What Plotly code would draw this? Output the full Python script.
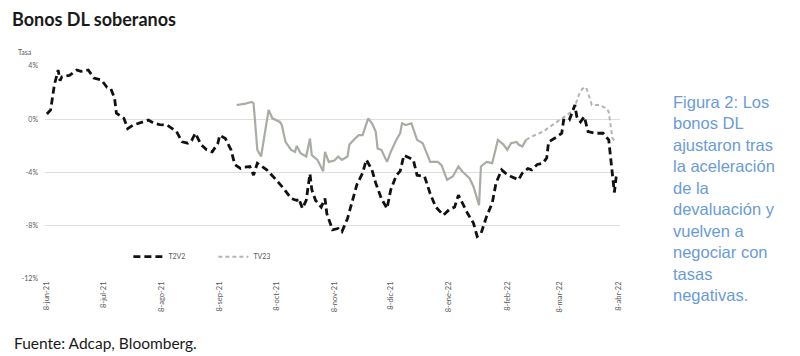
import plotly.graph_objects as go

# ---- data ----
t2v2_dates = ["2021-06-08","2021-06-10","2021-06-12","2021-06-14","2021-06-15","2021-06-16","2021-06-20",
    "2021-06-24","2021-06-26","2021-06-30","2021-07-03","2021-07-07","2021-07-10","2021-07-12","2021-07-14",
    "2021-07-15","2021-07-19","2021-07-21","2021-07-24","2021-07-27","2021-08-01","2021-08-04","2021-08-07",
    "2021-08-11","2021-08-16","2021-08-19","2021-08-22","2021-08-24","2021-08-26","2021-08-29","2021-09-01",
    "2021-09-04","2021-09-07","2021-09-08","2021-09-11","2021-09-14","2021-09-16","2021-09-19","2021-09-21",
    "2021-09-24","2021-09-26","2021-09-28","2021-09-30","2021-10-03","2021-10-08","2021-10-12","2021-10-16",
    "2021-10-19","2021-10-20","2021-10-22","2021-10-24","2021-10-26","2021-10-27","2021-10-29","2021-11-01",
    "2021-11-03","2021-11-04","2021-11-07","2021-11-10","2021-11-12","2021-11-15","2021-11-18","2021-11-20",
    "2021-11-23","2021-11-25","2021-11-28","2021-11-30","2021-12-03","2021-12-06","2021-12-08","2021-12-11",
    "2021-12-13","2021-12-15","2021-12-20","2021-12-22","2021-12-26","2021-12-29","2022-01-01","2022-01-05",
    "2022-01-08","2022-01-11","2022-01-13","2022-01-15","2022-01-18","2022-01-21","2022-01-23","2022-01-25",
    "2022-01-28","2022-01-31","2022-02-02","2022-02-05","2022-02-07","2022-02-10","2022-02-14","2022-02-16",
    "2022-02-19","2022-02-21","2022-02-24","2022-02-27","2022-03-01","2022-03-02","2022-03-05","2022-03-09",
    "2022-03-10","2022-03-13","2022-03-16","2022-03-17","2022-03-19","2022-03-21","2022-03-23","2022-03-27",
    "2022-03-31","2022-04-03","2022-04-04","2022-04-05","2022-04-06","2022-04-07"]
t2v2_vals = [0.4,0.7,2.6,3.7,2.9,3.2,3.3,
    3.7,3.6,3.7,3.1,2.95,2.4,2.3,1.6,
    0.45,0.07,-0.7,-0.43,-0.3,-0.06,-0.3,-0.4,
    -0.43,-0.93,-1.7,-1.8,-1.6,-1.05,-1.9,-2.3,
    -2.45,-1.8,-1.2,-1.45,-2.3,-3.4,-3.7,-3.6,
    -3.55,-4.2,-3.3,-3.5,-3.8,-4.55,-5.2,-5.95,
    -6.1,-5.95,-6.7,-6.1,-4.1,-5.3,-6.1,-6.6,
    -5.95,-7.1,-8.3,-8.2,-8.45,-7.45,-5.8,-4.9,
    -4.05,-3.05,-3.8,-4.8,-5.95,-6.7,-5.3,-4.2,
    -3.9,-2.7,-3.05,-4.2,-4.3,-5.6,-6.6,-7.2,
    -6.8,-6.6,-5.7,-6.3,-7.1,-7.8,-8.8,-8.6,
    -7.3,-6.3,-4.8,-3.8,-4.05,-4.3,-4.55,-4.05,
    -3.7,-3.8,-3.4,-3.3,-2.9,-1.7,-1.45,-1.05,
    -0.06,-0.06,1.07,0.2,-0.2,0.2,-0.93,-1.05,
    -1.05,-1.55,-2.8,-4.55,-5.5,-4.3]

tv23_dates = ["2021-09-17","2021-09-21","2021-09-25","2021-09-26","2021-09-28","2021-09-30","2021-10-02",
    "2021-10-04","2021-10-06","2021-10-10","2021-10-11","2021-10-13","2021-10-16","2021-10-18","2021-10-19",
    "2021-10-21","2021-10-24","2021-10-26","2021-10-27","2021-10-30","2021-11-02","2021-11-03","2021-11-05",
    "2021-11-08","2021-11-10","2021-11-12","2021-11-15","2021-11-16","2021-11-19","2021-11-21","2021-11-23",
    "2021-11-26","2021-11-28","2021-11-30","2021-12-01","2021-12-03","2021-12-06","2021-12-08","2021-12-11",
    "2021-12-13","2021-12-14","2021-12-16","2021-12-19","2021-12-22","2021-12-25","2021-12-29","2022-01-02",
    "2022-01-04","2022-01-07","2022-01-10","2022-01-13","2022-01-15","2022-01-19","2022-01-21","2022-01-24",
    "2022-01-25","2022-01-28","2022-01-31","2022-02-03","2022-02-06","2022-02-08","2022-02-10","2022-02-13",
    "2022-02-14","2022-02-16","2022-02-18","2022-02-21","2022-02-27","2022-03-04","2022-03-09","2022-03-11",
    "2022-03-14","2022-03-16","2022-03-18","2022-03-20","2022-03-22","2022-03-23","2022-03-25","2022-03-29",
    "2022-04-02","2022-04-03","2022-04-04","2022-04-05","2022-04-07"]
tv23_vals = [1.07,1.15,1.3,1.2,-2.3,-2.8,-1.05,
    0.7,0.07,-0.2,-0.43,-1.7,-2.3,-2.45,-2.0,
    -2.55,-2.8,-1.45,-2.7,-3.05,-3.9,-2.45,-3.2,
    -3.1,-2.8,-3.05,-2.8,-1.9,-1.45,-1.2,-1.2,
    0.07,-0.3,-0.93,-2.2,-2.3,-3.2,-2.45,-1.55,
    -1.05,-0.3,-0.43,-0.3,-1.55,-1.8,-3.2,-3.2,
    -3.45,-4.55,-4.3,-3.55,-3.9,-4.45,-5.05,-6.45,
    -3.55,-3.2,-3.3,-1.55,-1.9,-2.3,-1.8,-1.7,
    -1.9,-2.05,-1.55,-1.3,-0.93,-0.43,0.07,0.3,
    0.55,0.95,1.8,2.3,2.4,1.95,1.07,1.07,
    0.8,0.55,-0.3,-1.45,-1.7]
tv23_solid_until = "2022-02-18"   # earlier part drawn as a solid line

x_tick_vals = ["2021-06-08","2021-07-08","2021-08-08","2021-09-08","2021-10-08","2021-11-08",
               "2021-12-08","2022-01-08","2022-02-08","2022-03-08","2022-04-08"]
x_tick_text = ["8-jun-21","8-jul-21","8-ago-21","8-sep-21","8-oct-21","8-nov-21",
               "8-dic-21","8-ene-22","8-feb-22","8-mar-22","8-abr-22"]
y_tick_vals = [-12, -8, -4, 0, 4]
y_tick_text = ["-12%", "-8%", "-4%", "0%", "4%"]

series_names = ["T2V2", "TV23"]
title_text = "Bonos DL soberanos"
source_text = "Fuente: Adcap, Bloomberg."
side_text = ("Figura 2: Los<br>bonos DL<br>ajustaron tras<br>la aceleración<br>de la<br>"
             "devaluación y<br>vuelven a<br>negociar con<br>tasas<br>negativas.")

# ---- figure ----
split = tv23_dates.index(tv23_solid_until)
fig = go.Figure()
fig.add_trace(go.Scatter(x=tv23_dates[:split + 1], y=tv23_vals[:split + 1], mode="lines",
                         line=dict(color="#a7ada3", width=2.2), showlegend=False, hoverinfo="skip"))
fig.add_trace(go.Scatter(x=tv23_dates[split:], y=tv23_vals[split:], mode="lines", name=series_names[1],
                         line=dict(color="#b4b4b4", width=2, dash="4px,3px")))
fig.add_trace(go.Scatter(x=t2v2_dates, y=t2v2_vals, mode="lines", name=series_names[0],
                         line=dict(color="#111111", width=2.8, dash="7px,4px")))

fig.update_layout(
    width=800, height=356,
    margin=dict(l=45, r=180, t=66, b=77),
    paper_bgcolor="white", plot_bgcolor="white",
    font=dict(family="Lato, 'Open Sans', sans-serif", color="#595959"),
    title=dict(text="<b>" + title_text + "</b>", x=12 / 800, xanchor="left", xref="container",
               y=1 - 20 / 356, yanchor="middle", yref="container",
               font=dict(size=18, color="#1a1a1a", family="Lato, sans-serif")),
    legend=dict(orientation="h", x=0.145, y=0.105, xanchor="left", yanchor="middle",
                traceorder="reversed", bgcolor="rgba(0,0,0,0)",
                font=dict(size=7, color="#595959"), itemwidth=30, entrywidth=40),
    showlegend=True,
)
fig.update_xaxes(range=["2021-06-07", "2022-04-09"], tickmode="array", tickvals=x_tick_vals,
                 ticktext=x_tick_text, tickangle=-90, tickfont=dict(size=7.5, color="#595959"),
                 showgrid=False, zeroline=False, showline=False, ticks="")
fig.update_yaxes(range=[-12, 4], tickmode="array", tickvals=y_tick_vals, ticktext=y_tick_text,
                 tickfont=dict(size=7, color="#595959"), showgrid=True, gridcolor="#dedede",
                 gridwidth=1, zeroline=False, showline=False, ticks="", ticklabelstandoff=6)

fig.add_annotation(text="Tasa", xref="paper", yref="paper", x=-0.02, y=1.065, xanchor="right",
                   yanchor="middle", showarrow=False, font=dict(size=7, color="#595959"))
fig.add_annotation(text=side_text, xref="paper", yref="paper", x=(671 - 45) / 575, y=0.378,
                   xanchor="left", yanchor="middle", align="left", showarrow=False,
                   font=dict(size=16.5, color="#6a9bd8", family="Liberation Sans, Arial, sans-serif"))
fig.add_annotation(text=source_text, xref="paper", yref="paper", x=-33 / 575, y=-(343 - 279) / 213,
                   xanchor="left", yanchor="middle", showarrow=False,
                   font=dict(size=15.5, color="#1a1a1a", family="Lato, sans-serif"))

fig.write_html("out.html", config={"displayModeBar": False},
               post_script="document.body.style.margin='0';document.body.style.overflow='hidden';")
